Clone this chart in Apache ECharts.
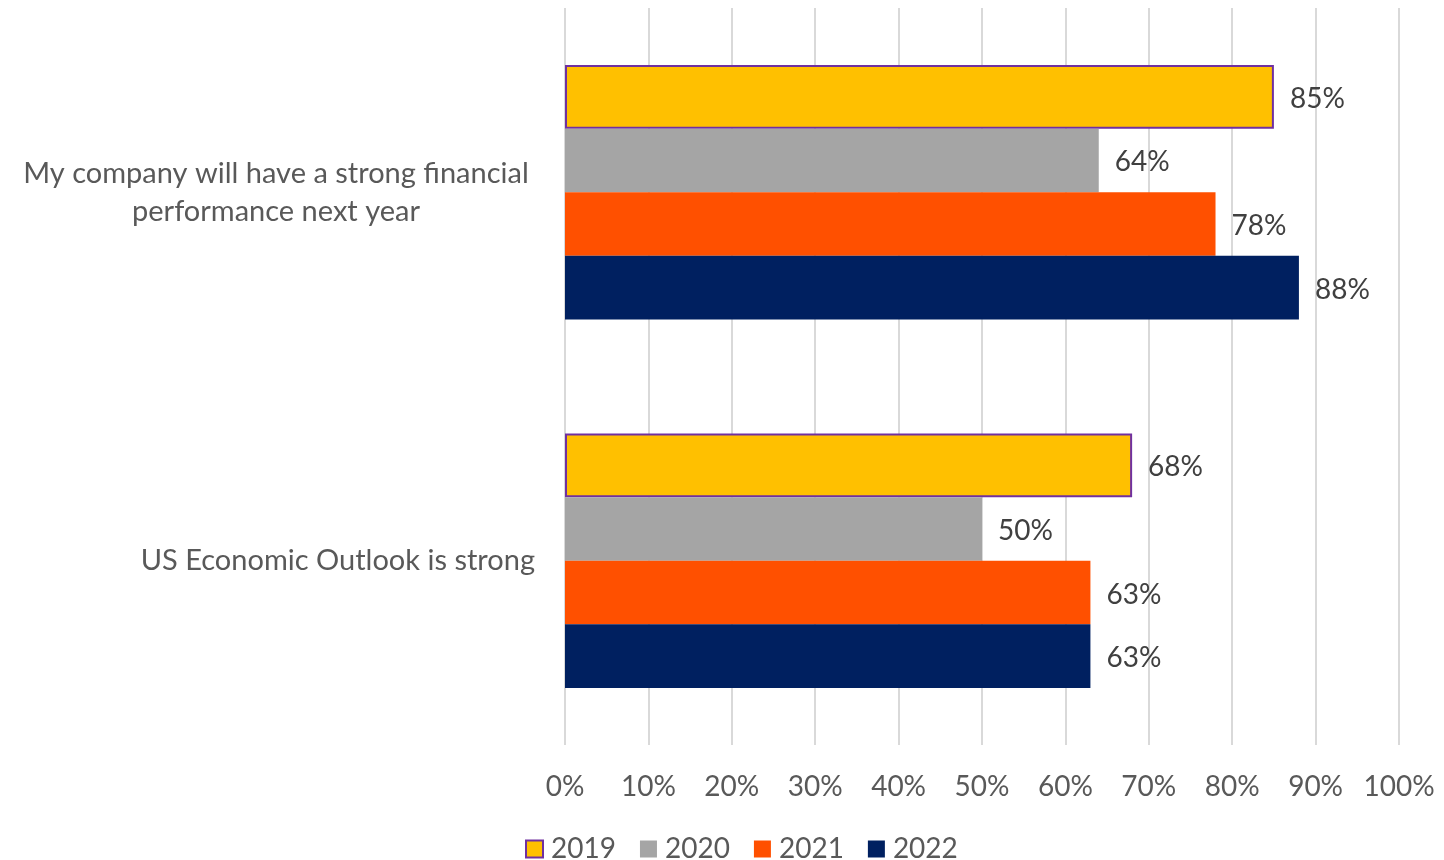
<!DOCTYPE html>
<html>
<head>
<meta charset="utf-8">
<script src="https://cdn.jsdelivr.net/npm/echarts@6/dist/echarts.min.js"></script>
<style>
  html, body { margin: 0; padding: 0; background: #fff; }
  #chart { width: 1444px; height: 860px; }
</style>
</head>
<body>
<div id="chart"></div>
<script>
// Survey statements (top to bottom)
const categories = [
  'My company will have a strong financial\nperformance next year',
  'US Economic Outlook is strong'
];
const years = ['2019', '2020', '2021', '2022'];
// Share of respondents agreeing, in percent
const values2019 = [85, 68];
const values2020 = [64, 50];
const values2021 = [78, 63];
const values2022 = [88, 63];
const xTicks = [0, 10, 20, 30, 40, 50, 60, 70, 80, 90, 100];

const seriesValues = [values2019, values2020, values2021, values2022];
const colors = ['#FFC000', '#A5A5A5', '#FF5000', '#002060'];
const FONT = 'Lato, "Open Sans", sans-serif';
const TEXT = '#595959';

const chart = echarts.init(document.getElementById('chart'), null, { renderer: 'canvas' });

const series = years.map((y, i) => ({
  name: y,
  type: 'bar',
  data: seriesValues[i],
  barGap: '0%',
  barCategoryGap: '31%',
  itemStyle: i === 0
    ? { color: colors[i], borderColor: '#7030A0', borderWidth: 2 }
    : { color: colors[i] },
  label: {
    show: true,
    position: 'right',
    distance: 16,
    offset: [0, 2],
    formatter: p => p.value + '%',
    color: '#404040',
    fontFamily: FONT,
    fontSize: 28
  }
}));

chart.setOption({
  animation: false,
  backgroundColor: '#ffffff',
  color: colors,
  grid: { left: 565, right: 45, top: 8, bottom: 115, containLabel: false },
  legend: {
    data: years.map((y, i) => ({
      name: y,
      itemStyle: i === 0 ? { borderColor: '#7030A0', borderWidth: 2 } : {}
    })),
    top: 830,
    left: 520,
    icon: 'rect',
    itemWidth: 17,
    itemHeight: 17,
    itemGap: 24,
    textStyle: { color: TEXT, fontFamily: FONT, fontSize: 28, padding: [0, 0, 0, 3] }
  },
  xAxis: {
    type: 'value',
    min: 0,
    max: 100,
    interval: 10,
    axisLine: { show: false },
    axisTick: { show: false },
    splitLine: { show: true, lineStyle: { color: '#D9D9D9', width: 2 } },
    axisLabel: {
      formatter: v => xTicks.includes(v) ? v + '%' : '',
      color: TEXT,
      fontFamily: FONT,
      fontSize: 28,
      margin: 28
    }
  },
  yAxis: {
    type: 'category',
    data: categories,
    inverse: true,
    axisLine: { show: false },
    axisTick: { show: false },
    axisLabel: {
      color: TEXT,
      fontFamily: FONT,
      fontSize: 29,
      margin: 30,
      lineHeight: 38,
      formatter: v => v.indexOf('\n') >= 0
        ? v.split('\n').map(s => '{c|' + s + '}').join('\n')
        : v,
      rich: {
        c: { width: 518, align: 'center', color: TEXT, fontFamily: FONT, fontSize: 29, lineHeight: 38 }
      }
    }
  },
  series: series
});
</script>
</body>
</html>
